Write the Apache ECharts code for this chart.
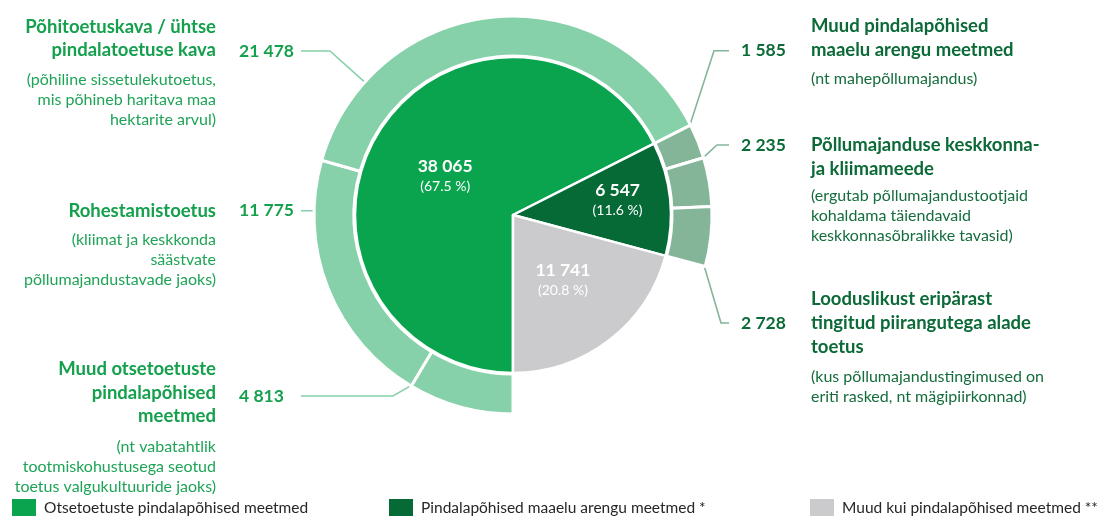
<!DOCTYPE html>
<html>
<head>
<meta charset="utf-8">
<script src="https://cdn.jsdelivr.net/npm/echarts@6/dist/echarts.min.js"></script>
<style>html,body{margin:0;padding:0;background:#fff}#c{width:1109px;height:516px}</style>
</head>
<body>
<div id="c"></div>
<script>
// ---- data ----
const innerNames = ['Otsetoetuste pindalapõhised meetmed', 'Pindalapõhised maaelu arengu meetmed *', 'Muud kui pindalapõhised meetmed **'];
const innerValues = [38065, 6547, 11741];

const outerNames = ['Muud otsetoetuste pindalapõhised meetmed', 'Rohestamistoetus', 'Põhitoetuskava / ühtse pindalatoetuse kava', 'Muud pindalapõhised maaelu arengu meetmed', 'Põllumajanduse keskkonna- ja kliimameede', 'Looduslikust eripärast tingitud piirangutega alade toetus'];
const outerValues = [4813, 11775, 21478, 1585, 2235, 2728];
const outerGroup = [0, 0, 0, 1, 1, 1];
const outerTitles = ['Muud otsetoetuste\npindalapõhised\nmeetmed', 'Rohestamistoetus', 'Põhitoetuskava / ühtse\npindalatoetuse kava', 'Muud pindalapõhised\nmaaelu arengu meetmed', 'Põllumajanduse keskkonna-\nja kliimameede', 'Looduslikust eripärast\ntingitud piirangutega alade\ntoetus'];
const outerDescs = ['(nt vabatahtlik\ntootmiskohustusega seotud\ntoetus valgukultuuride jaoks)', '(kliimat ja keskkonda\nsäästvate\npõllumajandustavade jaoks)', '(põhiline sissetulekutoetus,\nmis põhineb haritava maa\nhektarite arvul)', '(nt mahepõllumajandus)', '(ergutab põllumajandustootjaid\nkohaldama täiendavaid\nkeskkonnasõbralikke tavasid)', '(kus põllumajandustingimused on\neriti rasked, nt mägipiirkonnad)'];

// ---- layout / style ----
const FONT = 'Lato';
const COL = {
  inner: ['#0aa44f', '#056a36', '#cbcbcd'],
  outer: ['#86d1a9', '#84b599'],
  title: ['#14a04d', '#0b6a37'],
  desc: ['#1fa457', '#156c3c']
};
const CX = 513, CY = 215;
const R_IN = 158, R0_OUT = 159, R1_OUT = 199, R_EDGE = 198;
const numY = [396, 210.7, 51, 50.7, 145, 323];
const titleY = [369, 210.7, 26.7, 26, 145, 299.3];
const descY = [446.7, 240, 80, 79, 195.7, 376.7];
const len2 = [92, 12, 29, 15, 12, 8];
const lineStartX = [301, 729];
const sideX = { num: [229, 731], text: [216, 811] };
const TITLE_LH = 23.7, DESC_LH = 20;

const fmt = v => String(v).replace(/\B(?=(\d{3})+(?!\d))/g, ' ');
const innerTotal = innerValues.reduce((a, b) => a + b, 0);
const outerTotal = outerValues.reduce((a, b) => a + b, 0) + innerValues[2];

// segment angles (math degrees, clockwise from startAngle 270) derived from the data
const segAngles = [];
(function () {
  let acc = 0;
  outerValues.forEach(v => {
    const s = 270 - acc / outerTotal * 360;
    acc += v;
    segAngles.push([s, 270 - acc / outerTotal * 360]);
  });
})();

function nearestOnSeg(i, px, py) {
  const dx = px - CX, dy = CY - py;
  const dist = Math.hypot(dx, dy);
  const phi = Math.atan2(dy, dx) * 180 / Math.PI;
  const s = segAngles[i][0], e = segAngles[i][1];
  const span = s - e;
  const d = (((s - phi) % 360) + 360) % 360;
  let theta, r;
  if (d <= span) { theta = phi; r = dist; }
  else {
    const overEnd = d - span, overStart = 360 - d;
    theta = overEnd < overStart ? e : s;
    r = dist * Math.cos(Math.min(overEnd, overStart) * Math.PI / 180);
  }
  r = Math.max(R0_OUT, Math.min(R_EDGE, r));
  const t = theta * Math.PI / 180;
  return [CX + r * Math.cos(t), CY - r * Math.sin(t)];
}

const innerData = innerValues.map((v, i) => ({
  name: innerNames[i], value: v, itemStyle: { color: COL.inner[i] }
}));

const outerData = outerValues.map((v, i) => ({
  name: outerNames[i], value: v,
  itemStyle: { color: COL.outer[outerGroup[i]] },
  label: { color: COL.title[outerGroup[i]] }
})).concat([{
  name: '', value: innerValues[2],
  itemStyle: { color: 'rgba(0,0,0,0)', borderWidth: 0 },
  label: { show: false }, labelLine: { show: false }
}]);

const graphics = [];
outerTitles.forEach((t, i) => {
  const s = outerGroup[i];
  const al = s ? 'left' : 'right';
  graphics.push({
    type: 'text', silent: true,
    style: {
      text: t, x: sideX.text[s], y: titleY[i] - TITLE_LH / 2,
      align: al, textAlign: al, verticalAlign: 'top', textVerticalAlign: 'top',
      lineHeight: TITLE_LH, fontFamily: FONT, fontSize: 18.5, fontWeight: 'bold',
      fill: COL.title[s]
    }
  });
  graphics.push({
    type: 'text', silent: true,
    style: {
      text: outerDescs[i], x: sideX.text[s], y: descY[i] - DESC_LH / 2,
      align: al, textAlign: al, verticalAlign: 'top', textVerticalAlign: 'top',
      lineHeight: DESC_LH, fontFamily: FONT, fontSize: 16, fontWeight: 'normal',
      fill: COL.desc[s]
    }
  });
});

const chart = echarts.init(document.getElementById('c'));
chart.setOption({
  animation: false,
  backgroundColor: '#fff',
  legend: innerNames.map((n, i) => ({
    data: [n], left: [10, 387, 808][i], top: 497, padding: 0,
    itemWidth: 26, itemHeight: 19, icon: 'rect', selectedMode: false,
    textStyle: { fontFamily: FONT, fontSize: 15.5, color: '#262626', padding: [0, 0, 0, 2] }
  })),
  graphic: graphics,
  series: [
    {
      type: 'pie', name: 'inner', center: [CX, CY], radius: [0, R_IN],
      startAngle: 270, clockwise: true, emphasis: { disabled: true },
      itemStyle: { borderColor: '#fff', borderWidth: 2.5 },
      label: {
        show: true, position: 'inside',
        formatter: p => '{v|' + fmt(p.value) + '}\n{p|(' + (p.value / innerTotal * 100).toFixed(1) + ' %)}',
        rich: {
          v: { fontFamily: FONT, fontSize: 17.5, fontWeight: 'bold', color: '#fff', lineHeight: 21, align: 'center' },
          p: { fontFamily: FONT, fontSize: 14, color: '#fff', lineHeight: 19, align: 'center' }
        }
      },
      labelLayout: p => (p.dataIndex === 1 ? { dx: 23, dy: -7 } : (p.dataIndex === 0 ? { dx: 2, dy: 4 } : {})),
      data: innerData
    },
    {
      type: 'pie', name: 'outer', center: [CX, CY], radius: [R0_OUT, R1_OUT],
      startAngle: 270, clockwise: true, emphasis: { disabled: true },
      itemStyle: { borderColor: '#fff', borderWidth: 3 },
      label: {
        show: true, position: 'outside',
        formatter: p => fmt(p.value),
        fontFamily: FONT, fontSize: 17.5, fontWeight: 'bold', padding: [0, 10]
      },
      labelLine: { show: true, length: 10, length2: 10, smooth: false, lineStyle: { width: 1.6 } },
      labelLayout: p => {
        const i = p.dataIndex;
        if (i >= outerValues.length) return {};
        const side = outerGroup[i];
        const p0 = [lineStartX[side], numY[i]];
        const p1 = [p0[0] + (side ? -len2[i] : len2[i]), numY[i]];
        const p2 = nearestOnSeg(i, p1[0], p1[1]);
        return {
          x: sideX.num[side], y: numY[i], align: 'left', verticalAlign: 'middle',
          labelLinePoints: [p2, p1, p0]
        };
      },
      data: outerData
    }
  ]
});
</script>
</body>
</html>
